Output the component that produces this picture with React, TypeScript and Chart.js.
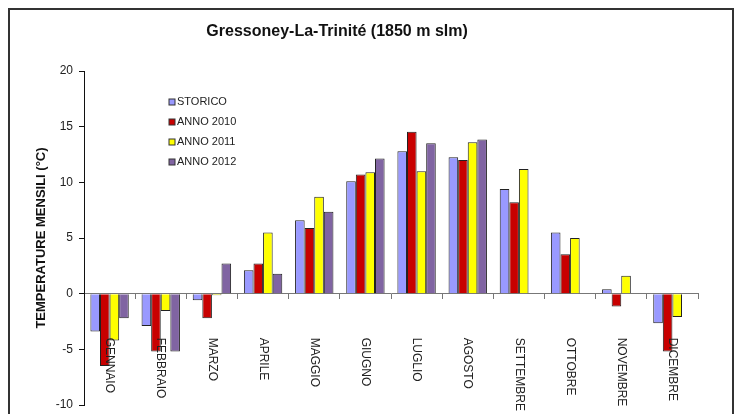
import React, { useEffect, useRef } from "react";
import { Chart, registerables } from "chart.js";

Chart.register(...registerables);

const months = [
  "GENNAIO", "FEBBRAIO", "MARZO", "APRILE", "MAGGIO", "GIUGNO",
  "LUGLIO", "AGOSTO", "SETTEMBRE", "OTTOBRE", "NOVEMBRE", "DICEMBRE",
];
const storico = [-3.4, -2.9, -0.6, 2.1, 6.6, 10.1, 12.8, 12.25, 9.4, 5.5, 0.4, -2.65];
const anno2010 = [-6.5, -5.2, -2.2, 2.7, 5.9, 10.7, 14.55, 12.0, 8.2, 3.55, -1.15, -5.2];
const anno2011 = [-4.2, -1.55, -0.15, 5.5, 8.7, 10.9, 11.0, 13.6, 11.2, 5.0, 1.6, -2.1];
const anno2012 = [-2.2, -5.2, 2.7, 1.8, 7.35, 12.15, 13.5, 13.85, null, null, null, null];
const seriesNames = ["STORICO", "ANNO 2010", "ANNO 2011", "ANNO 2012"];
const seriesColors = ["#9999FF", "#C80000", "#FFFF00", "#8064A2"];
const yMin = -10;
const yMax = 20;
const yStep = 5;
const chartTitle = "Gressoney-La-Trinité (1850 m slm)";
const yTitle = "TEMPERATURE MENSILI (°C)";

const FONT = "'Liberation Sans', Arial, sans-serif";

const titlePlugin = {
  id: "customTitle",
  afterDraw(chart: any) {
    const { ctx, width } = chart;
    ctx.save();
    ctx.font = `bold 16px ${FONT}`;
    ctx.fillStyle = "#111";
    ctx.textAlign = "center";
    ctx.textBaseline = "middle";
    ctx.fillText(chartTitle, width * 0.453, 22);
    ctx.restore();
  },
};

const monthLabelPlugin = {
  id: "monthLabels",
  afterDatasetsDraw(chart: any) {
    const { ctx } = chart;
    const xs = chart.scales.x;
    const ys = chart.scales.y;
    const y0 = ys.getPixelForValue(0);
    ctx.save();
    ctx.font = `12px ${FONT}`;
    ctx.fillStyle = "#222";
    ctx.textAlign = "left";
    ctx.textBaseline = "middle";
    months.forEach((m, i) => {
      const x = xs.getPixelForValue(i);
      ctx.save();
      ctx.translate(x, y0 + 44);
      ctx.rotate(Math.PI / 2);
      ctx.fillText(m, 0, 0);
      ctx.restore();
    });
    ctx.restore();
  },
};

const legendPlugin = {
  id: "innerLegend",
  afterDraw(chart: any) {
    const { ctx, chartArea } = chart;
    const left = chartArea.left + 85;
    const top = chartArea.top + 31;
    ctx.save();
    ctx.font = `11px ${FONT}`;
    ctx.textAlign = "left";
    ctx.textBaseline = "middle";
    chart.data.datasets.forEach((ds: any, i: number) => {
      const cy = top + i * 20;
      ctx.fillStyle = ds.backgroundColor;
      ctx.fillRect(left, cy - 3, 6, 6);
      ctx.strokeStyle = "#333";
      ctx.lineWidth = 1;
      ctx.strokeRect(left, cy - 3, 6, 6);
      ctx.fillStyle = "#222";
      ctx.fillText(ds.label, left + 8, cy);
    });
    ctx.restore();
  },
};

export default function App() {
  const ref = useRef<HTMLCanvasElement>(null);

  useEffect(() => {
    if (!ref.current) return;
    const seriesData = [storico, anno2010, anno2011, anno2012];
    const chart = new Chart(ref.current, {
      type: "bar",
      data: {
        labels: months,
        datasets: seriesNames.map((name, i) => ({
          label: name,
          data: seriesData[i],
          backgroundColor: seriesColors[i],
          borderColor: "#222",
          borderWidth: 1,
          categoryPercentage: 0.75,
          barPercentage: 1.0,
        })),
      },
      options: {
        responsive: false,
        animation: false,
        devicePixelRatio: 1,
        layout: { padding: { top: 61, right: 34, bottom: 41, left: 0 } },
        plugins: {
          legend: { display: false },
          title: { display: false },
          tooltip: { enabled: false },
        },
        scales: {
          x: {
            position: { y: 0 } as any,
            ticks: { display: false },
            grid: {
              drawOnChartArea: false,
              drawTicks: true,
              tickLength: 5,
              offset: true,
              color: "#777",
            },
            border: { display: true, color: "#777", width: 1 },
          },
          y: {
            min: yMin,
            max: yMax,
            ticks: {
              stepSize: yStep,
              padding: 6,
              color: "#222",
              font: { family: FONT, size: 12 },
            },
            grid: {
              drawOnChartArea: false,
              drawTicks: true,
              tickLength: 5,
              color: "#111",
            },
            border: { display: true, color: "#111", width: 1 },
            title: {
              display: true,
              text: yTitle,
              color: "#111",
              font: { family: FONT, size: 13, weight: "bold" },
              padding: { top: 24, bottom: 0 },
            },
            afterFit(scale: any) {
              scale.width = 74;
            },
          },
        },
      },
      plugins: [titlePlugin, monthLabelPlugin, legendPlugin],
    });
    return () => chart.destroy();
  }, []);

  return (
    <div
      style={{
        position: "fixed",
        left: 0,
        top: 0,
        width: 742,
        height: 414,
        overflow: "hidden",
        background: "#fff",
      }}
    >
      <div
        style={{
          position: "absolute",
          left: 8,
          top: 8,
          width: 726,
          height: 440,
          border: "2px solid #333",
          boxSizing: "border-box",
          background: "#fff",
        }}
      >
        <canvas ref={ref} width={722} height={436} style={{ display: "block", width: 722, height: 436 }} />
      </div>
    </div>
  );
}
